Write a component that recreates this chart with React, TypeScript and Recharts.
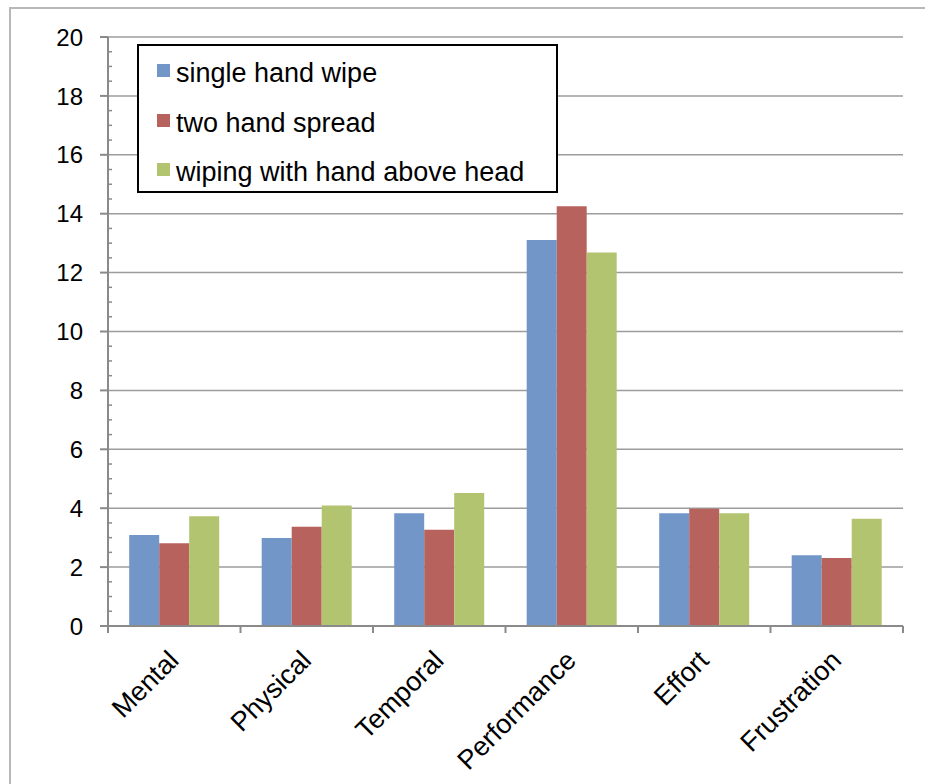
import React from 'react';
import { BarChart, Bar, XAxis, YAxis, CartesianGrid, Legend } from 'recharts';

const categories = ['Mental', 'Physical', 'Temporal', 'Performance', 'Effort', 'Frustration'];
const singleHandWipe = [3.09, 2.99, 3.83, 13.11, 3.83, 2.4];
const twoHandSpread = [2.81, 3.37, 3.27, 14.25, 3.98, 2.31];
const wipingAboveHead = [3.73, 4.09, 4.52, 12.68, 3.83, 3.64];

const majorTicks = [0, 2, 4, 6, 8, 10, 12, 14, 16, 18, 20];
const allTicks = [
    0, 0.5, 1, 1.5, 2, 2.5, 3, 3.5, 4, 4.5, 5, 5.5, 6, 6.5, 7, 7.5, 8, 8.5, 9, 9.5, 10,
    10.5, 11, 11.5, 12, 12.5, 13, 13.5, 14, 14.5, 15, 15.5, 16, 16.5, 17, 17.5, 18, 18.5, 19, 19.5, 20,
];

const FONT = '"Liberation Sans", Arial, sans-serif';
const AXIS = '#8a8a8a';

const data = categories.map((name, i) => ({
    name,
    single: singleHandWipe[i],
    two: twoHandSpread[i],
    above: wipingAboveHead[i],
}));

// y ticks: labelled major ticks outside, small minor ticks inside
const YTick = (props: any) => {
    const { x, y, payload } = props;
    const major = majorTicks.includes(payload.value);
    return (
        <g>
            {major ? (
                <line x1={x - 8} x2={x} y1={y} y2={y} stroke={AXIS} strokeWidth={2} />
            ) : (
                <line x1={x} x2={x + 4} y1={y} y2={y} stroke={AXIS} strokeWidth={1.5} />
            )}
            {major && (
                <text x={x - 25} y={y} dy="0.36em" textAnchor="end" fontSize={24} fill="#000" fontFamily={FONT}>
                    {payload.value}
                </text>
            )}
        </g>
    );
};

// x ticks: tick marks on category borders, rotated labels
const XTick = (props: any) => {
    const { x, y, payload, index } = props;
    const half = payload.offset ?? 66;
    const last = index === categories.length - 1;
    const lx = x + 6;
    const ly = y + 36;
    return (
        <g>
            <line x1={x - half} x2={x - half} y1={y} y2={y + 7} stroke={AXIS} strokeWidth={2} />
            {last && <line x1={x + half} x2={x + half} y1={y} y2={y + 7} stroke={AXIS} strokeWidth={2} />}
            <text
                x={lx}
                y={ly}
                textAnchor="end"
                fontSize={27}
                fill="#000"
                fontFamily={FONT}
                transform={`rotate(-45 ${lx} ${ly})`}
            >
                {payload.value}
            </text>
        </g>
    );
};

const renderLegend = (props: any) => {
    const { payload } = props;
    return (
        <div>
            {(payload || []).map((entry: any) => (
                <div key={entry.value} style={{ display: 'flex', alignItems: 'center', height: 49.5 }}>
                    <span style={{ width: 13, height: 13, background: entry.color, marginRight: 6, flexShrink: 0 }} />
                    <span style={{ fontSize: 27, fontFamily: FONT, color: '#000', position: 'relative', top: 3, whiteSpace: 'nowrap' }}>
                        {entry.value}
                    </span>
                </div>
            ))}
        </div>
    );
};

export default function App() {
    return (
        <div style={{ position: 'absolute', left: 0, top: 0, width: 925, height: 784, background: '#fff', overflow: 'hidden' }}>
            <div
                style={{
                    position: 'absolute',
                    left: 9,
                    top: 7,
                    width: 1000,
                    height: 1000,
                    border: '2px solid #b8b8b8',
                }}
            />
            <div style={{ position: 'absolute', left: 0, top: 0 }}>
                <BarChart
                    width={925}
                    height={784}
                    data={data}
                    margin={{ top: 37, right: 22, left: 0, bottom: 0 }}
                    barGap={0}
                    barCategoryGap="16%"
                >
                    <CartesianGrid vertical={false} horizontalValues={majorTicks} stroke="#9c9c9c" strokeWidth={1.5} />
                    <XAxis
                        dataKey="name"
                        height={158}
                        interval={0}
                        tickSize={0}
                        tickMargin={0}
                        tickLine={false}
                        axisLine={{ stroke: AXIS, strokeWidth: 2 }}
                        tick={<XTick />}
                    />
                    <YAxis
                        width={108}
                        domain={[0, 20]}
                        ticks={allTicks}
                        interval={0}
                        tickSize={0}
                        tickMargin={0}
                        tickLine={false}
                        axisLine={{ stroke: AXIS, strokeWidth: 2 }}
                        tick={<YTick />}
                    />
                    <Legend
                        layout="vertical"
                        align="center"
                        verticalAlign="middle"
                        content={renderLegend}
                        wrapperStyle={{
                            left: 137,
                            top: 44,
                            width: 421,
                            height: 149,
                            border: '2px solid #000',
                            boxSizing: 'border-box',
                            background: '#fff',
                            paddingLeft: 18,
                        }}
                    />
                    <Bar dataKey="single" name="single hand wipe" fill="#7296C8" isAnimationActive={false} />
                    <Bar dataKey="two" name="two hand spread" fill="#B8625E" isAnimationActive={false} />
                    <Bar dataKey="above" name="wiping with hand above head" fill="#B2C470" isAnimationActive={false} />
                </BarChart>
            </div>
        </div>
    );
}
